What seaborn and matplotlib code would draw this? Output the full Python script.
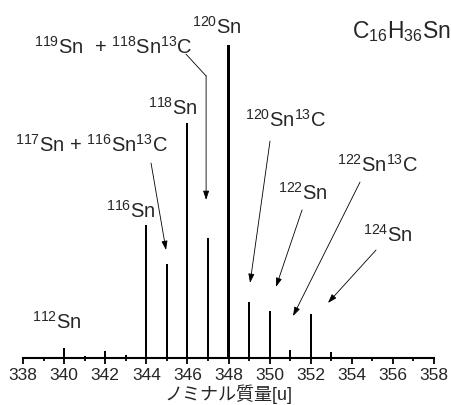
import numpy as np
import pandas as pd
import seaborn as sns
import matplotlib.pyplot as plt

# nominal mass [u] and relative intensity (120Sn = 100)
masses = [340, 341, 342, 343, 344, 345, 346, 347, 348, 349, 350, 351, 352, 353]
intensity = [3.2, 0.6, 2.2, 1.0, 42.5, 30.0, 75.1, 38.3, 100.0, 17.9, 15.0, 2.6, 14.1, 1.9]

tick_values = list(range(338, 359, 2))
x_label = 'ノミナル質量[u]'
formula = r'C$_{16}$H$_{36}$Sn'

# peak labels: (text, x, y) -> left/baseline anchored
peak_labels = [
    (r'$^{119}$Sn  + $^{118}$Sn$^{13}$C', 338.54, 97.1),
    (r'$^{120}$Sn', 346.22, 103.5),
    (r'$^{118}$Sn', 344.08, 77.6),
    (r'$^{117}$Sn + $^{116}$Sn$^{13}$C', 337.61, 65.8),
    (r'$^{120}$Sn$^{13}$C', 348.80, 73.8),
    (r'$^{122}$Sn$^{13}$C', 353.28, 59.4),
    (r'$^{122}$Sn', 350.41, 50.5),
    (r'$^{116}$Sn', 342.04, 44.7),
    (r'$^{124}$Sn', 354.55, 37.1),
    (r'$^{112}$Sn', 338.44, 9.3),
]

# leader arrows: (start, end)
arrows = [
    ((344.23, 62.3), (344.96, 34.5)),
    ((346.91, 90.1), (346.91, 50.5)),
    ((350.02, 69.3), (349.05, 24.0)),
    ((351.58, 47.3), (350.31, 22.7)),
    ((354.40, 56.2), (351.14, 13.4)),
    ((355.18, 34.5), (352.84, 17.6)),
]
# kinked part of the 119Sn arrow
kink_x = [345.93, 346.91]
kink_y = [97.1, 90.1]

sns.set_theme(style='white')
plt.rcParams['font.family'] = ['Liberation Sans', 'Noto Sans CJK JP', 'DejaVu Sans']
plt.rcParams['mathtext.fontset'] = 'custom'
plt.rcParams['mathtext.rm'] = 'Liberation Sans'
plt.rcParams['mathtext.it'] = 'Liberation Sans'
plt.rcParams['mathtext.bf'] = 'Liberation Sans'

df = pd.DataFrame({'mass': masses, 'intensity': intensity})

fig = plt.figure(figsize=(4.51, 4.05), dpi=100)
ax = fig.add_axes([23 / 451, 47 / 405, 411 / 451, 313 / 405])

sns.barplot(data=df, x='mass', y='intensity', native_scale=True, width=0.1,
            color='black', errorbar=None, ax=ax, edgecolor='black', linewidth=0)

ax.set_xlim(338, 358)
ax.set_ylim(0, 100)
ax.set_xticks(tick_values)
ax.set_xticks(range(339, 358, 2), minor=True)
ax.set_yticks([])
ax.tick_params(axis='x', which='major', direction='out', length=4.5, width=1.3,
               labelsize=12.5, pad=2.5, bottom=True, color='black')
ax.tick_params(axis='x', which='minor', direction='out', length=2.2, width=1.3,
               bottom=True, color='black')
sns.despine(ax=ax, left=True)
ax.spines['bottom'].set_linewidth(1.5)
ax.spines['bottom'].set_color('black')
ax.set_xlabel(x_label, fontsize=13, labelpad=1)
ax.set_ylabel('')

for text, x, y in peak_labels:
    ax.text(x, y, text, fontsize=14.5, ha='left', va='baseline', clip_on=False)
ax.text(354.0, 102.2, formula, fontsize=16.5, ha='left', va='baseline', clip_on=False)

ax.plot(kink_x, kink_y, color='black', lw=0.6, clip_on=False)
for start, end in arrows:
    ax.annotate('', xy=end, xytext=start, annotation_clip=False,
                arrowprops=dict(arrowstyle='-|>,head_length=0.45,head_width=0.15',
                                color='black', lw=0.6, shrinkA=0, shrinkB=0))

fig.savefig('out.png', dpi=100)
